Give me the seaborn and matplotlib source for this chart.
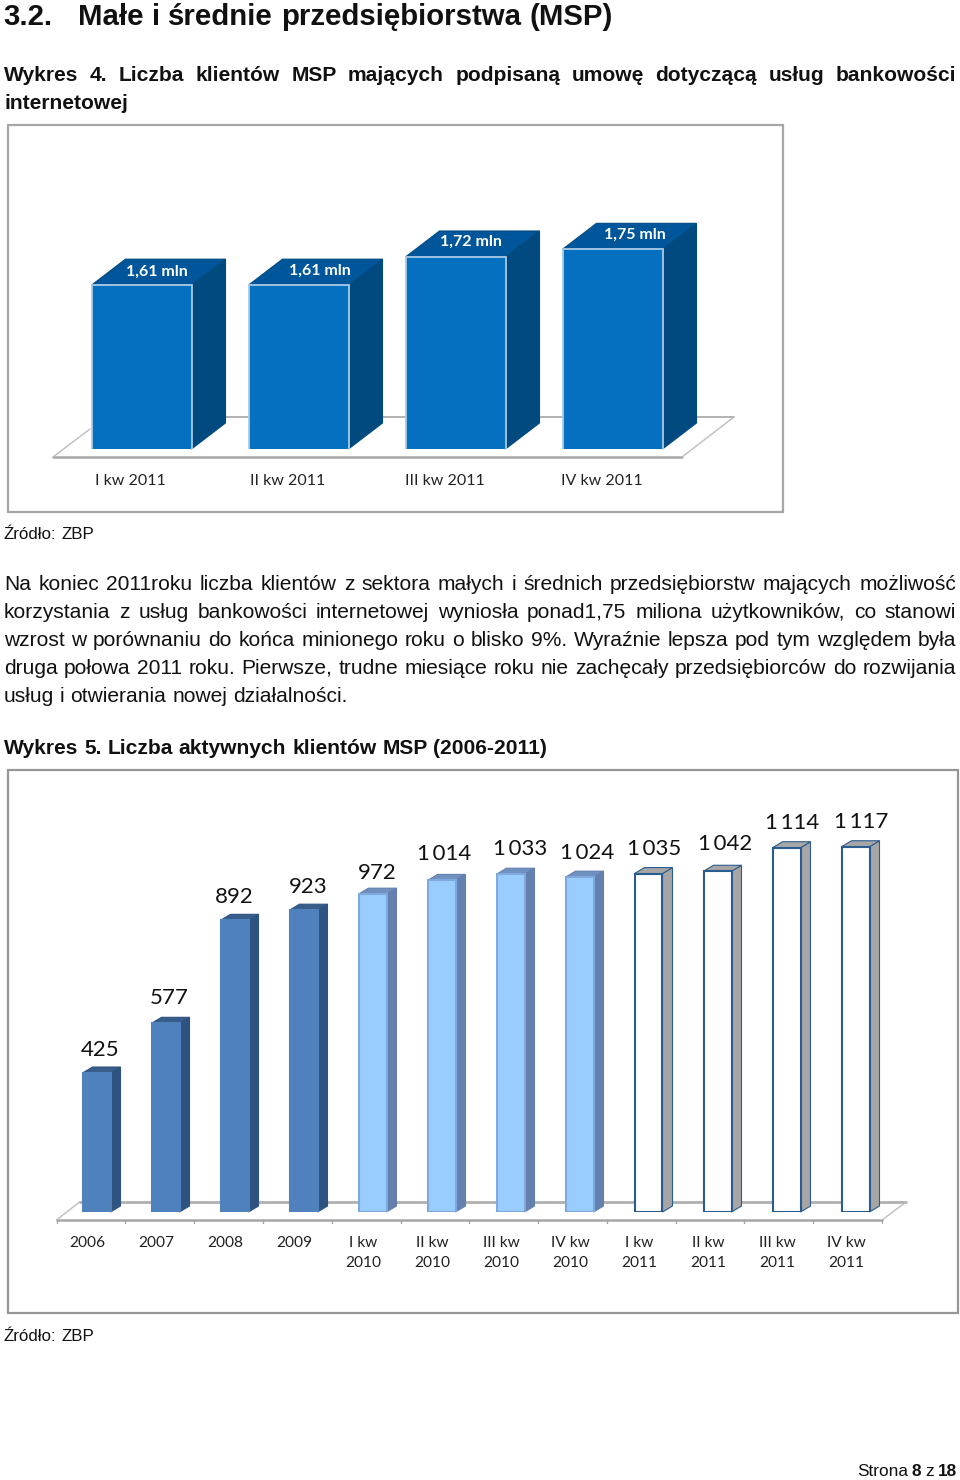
import matplotlib

matplotlib.use("Agg")
import matplotlib.pyplot as plt
import seaborn as sns
from matplotlib.patches import Polygon, Rectangle
from matplotlib.transforms import ScaledTranslation

# chart values
quarters = ["I kw 2011", "II kw 2011", "III kw 2011", "IV kw 2011"]
users_mln = [1.61, 1.61, 1.72, 1.75]

periods = [
    "2006", "2007", "2008", "2009",
    "I kw\n2010", "II kw\n2010", "III kw\n2010", "IV kw\n2010",
    "I kw\n2011", "II kw\n2011", "III kw\n2011", "IV kw\n2011",
]
active_clients = [425, 577, 892, 923, 972, 1014, 1033, 1024, 1035, 1042, 1114, 1117]

# page text
heading_no = "3.2."
heading = "Małe i średnie przedsiębiorstwa (MSP)"
title_4 = "Wykres 4. Liczba klientów MSP mających podpisaną umowę dotyczącą usług bankowości"
title_4b = "internetowej"
title_5 = "Wykres 5. Liczba aktywnych klientów MSP (2006-2011)"
source = "Źródło: ZBP"
body = [
    "Na koniec 2011roku liczba klientów z sektora małych i średnich przedsiębiorstw mających możliwość",
    "korzystania z usług bankowości internetowej wyniosła ponad1,75 miliona użytkowników, co stanowi",
    "wzrost w porównaniu do końca minionego roku o blisko 9%. Wyraźnie lepsza pod tym względem była",
    "druga połowa 2011 roku. Pierwsze, trudne miesiące roku nie zachęcały przedsiębiorców do rozwijania",
    "usług i otwierania nowej działalności.",
]

W, H = 960, 1480
BODY_FONT = "Liberation Sans"
CHART_FONT = "Lato"

sns.set_style("white")
plt.rcParams["font.family"] = [BODY_FONT, "DejaVu Sans"]

fig = plt.figure(figsize=(W / 100, H / 100), dpi=100, facecolor="white")
renderer = fig.canvas.get_renderer()


def fx(px):
    return px / W


def fy(px):
    return 1 - px / H


def page_text(words, x, y, size, weight="normal", right=None):
    """Write one line word by word, stretched out to `right` if given. y is the baseline."""
    items = [
        fig.text(fx(x), fy(y), w, fontsize=size, fontweight=weight, va="baseline", color="#111111")
        for w in words.split(" ")
    ]
    widths = [t.get_window_extent(renderer).width for t in items]
    space = size * 100 / 72 * 0.278
    if right is not None and len(items) > 1:
        space = (right - x - sum(widths)) / (len(items) - 1)
    pos = x
    for t, w in zip(items, widths):
        t.set_x(fx(pos))
        pos += w + space
    return pos


def make_axes(left, right, top, bottom):
    ax = fig.add_axes([fx(left), fy(bottom), (right - left) / W, (bottom - top) / H])
    ax.patch.set_alpha(0)
    return ax


def add_depth(ax, dx_px, dy_px, side_cols, top_cols, edge_cols):
    """Extrude the seaborn bars into fake 3D boxes, sizes given in pixels."""
    x0, x1 = ax.get_xlim()
    y0, y1 = ax.get_ylim()
    box = ax.get_position()
    dx = dx_px / (box.width * W) * (x1 - x0)
    dy = dy_px / (box.height * H) * (y1 - y0)
    for bar, side, top, edge in zip(list(ax.patches), side_cols, top_cols, edge_cols):
        left = bar.get_x()
        right = left + bar.get_width()
        val = bar.get_height()
        ax.add_patch(Polygon(
            [(right, y0), (right + dx, y0 + dy), (right + dx, val + dy), (right, val)],
            facecolor=side, edgecolor=edge, lw=0.8, zorder=2, clip_on=False,
        ))
        ax.add_patch(Polygon(
            [(left, val), (left + dx, val + dy), (right + dx, val + dy), (right, val)],
            facecolor=top, edgecolor=edge, lw=0.8, zorder=2, clip_on=False,
        ))


def shift_ticklabels(ax, px):
    for lab in ax.get_xticklabels():
        lab.set_transform(lab.get_transform() + ScaledTranslation(px / 100, 0, fig.dpi_scale_trans))


# page frames
for (l, t, r, b), col in [((8, 125, 783, 512), "#a6a6a6"), ((8, 770, 958, 1313), "#969696")]:
    fig.add_artist(Rectangle(
        (fx(l), fy(b)), (r - l) / W, (b - t) / H, transform=fig.transFigure,
        facecolor="white", edgecolor=col, lw=1.6, zorder=-1,
    ))

# page text
fig.text(fx(3), fy(25), heading_no, fontsize=21.2, fontweight="bold", va="baseline", color="#111111")
page_text(heading, 78, 25, 21.2, "bold")
page_text(title_4, 4, 81, 15.1, "bold", right=956)
page_text(title_4b, 4, 109, 15.1, "bold")
page_text(source, 4, 539, 12.2)
for i, line in enumerate(body):
    page_text(line, 4, 590 + 28 * i, 15.1, right=956 if i < 4 else None)
page_text(title_5, 4, 754, 15.1, "bold")
page_text(source, 4, 1341, 12.2)

fig.text(fx(857), fy(1476), "Strona", fontsize=12.4, va="baseline", color="#111111")
fig.text(fx(912), fy(1476), "8", fontsize=12.4, fontweight="bold", va="baseline", color="#111111")
fig.text(fx(925), fy(1476), "z", fontsize=12.4, va="baseline", color="#111111")
fig.text(fx(938), fy(1476), "18", fontsize=12.4, fontweight="bold", va="baseline", color="#111111")

# ---- chart 4 ----
BAR_1 = 157
SCALE_1 = 256
ax1 = make_axes(53, 682, 200, 449)
sns.barplot(
    x=quarters, y=users_mln, hue=quarters, palette=["#0570C0"] * 4, legend=False,
    width=100 / BAR_1, saturation=1, ax=ax1, zorder=3,
)
ax1.set_xlim(-(141.5 - 53) / BAR_1, (682 - 141.5) / BAR_1)
ax1.set_ylim(0.97, 0.97 + 249 / SCALE_1)
for bar in ax1.patches:
    bar.set_edgecolor("#a9cbe4")
    bar.set_linewidth(1.3)
add_depth(ax1, 34, 26, ["#004A80"] * 4, ["#00569B"] * 4, ["#004A80"] * 4)

# floor, offsets in px from the bar base
xlo, xhi = ax1.get_xlim()
ylo = ax1.get_ylim()[0]
ux, uy = 1 / BAR_1, 1 / SCALE_1
ax1.plot([xlo, xhi], [ylo - 8 * uy] * 2, color="#a6a6a6", lw=1.8, clip_on=False, zorder=1)
ax1.plot([xlo + 52 * ux, xhi + 52 * ux], [ylo + 32 * uy] * 2, color="#a6a6a6", lw=1.2, clip_on=False, zorder=1)
ax1.plot([xlo, xlo + 37 * ux], [ylo - 8 * uy, ylo + 20 * uy], color="#bdbdbd", lw=1, clip_on=False, zorder=1)
ax1.plot([xhi, xhi + 52 * ux], [ylo - 8 * uy, ylo + 32 * uy], color="#bdbdbd", lw=1, clip_on=False, zorder=1)

label_nudge_1 = [(15, 13), (21.5, 14.5), (15, 15.5), (22, 14.5)]
for bar, val, (nx, ny) in zip(list(ax1.patches), users_mln, label_nudge_1):
    ax1.annotate(
        f"{val:.2f}".replace(".", ",") + " mln",
        (bar.get_x() + bar.get_width() / 2, val), xytext=(nx * 0.72, ny * 0.72),
        textcoords="offset points", ha="center", va="center", color="white",
        fontsize=11.5, fontweight="bold", family=CHART_FONT, zorder=5, annotation_clip=False,
    )
ax1.set_xticks(range(len(quarters)))
ax1.set_xticklabels(quarters, fontsize=11.5, family=CHART_FONT, color="#222222")
ax1.tick_params(axis="x", length=0, pad=18)
shift_ticklabels(ax1, -11)
ax1.set_yticks([])
ax1.set_ylabel("")
sns.despine(ax=ax1, left=True, bottom=True)

# ---- chart 5 ----
BAR_2 = 69
SCALE_2 = 0.327
front = ["#4F81BD"] * 4 + ["#99CCFF"] * 4 + ["#FFFFFF"] * 4
sides = ["#2F5380"] * 4 + ["#6480AE"] * 4 + ["#A6A6A6"] * 4
tops = ["#385D8A"] * 4 + ["#7090C0"] * 4 + ["#A6A6A6"] * 4
edges = ["#4F81BD"] * 4 + ["#7FA8DC"] * 4 + ["#2B5C8F"] * 4
depth_edges = ["#2F5380"] * 4 + ["#6480AE"] * 4 + ["#2B5C8F"] * 4
ax2 = make_axes(62, 890, 800, 1212)
sns.barplot(
    x=periods, y=active_clients, hue=periods, palette=front, legend=False,
    width=28 / BAR_2, saturation=1, ax=ax2, zorder=3,
)
ax2.set_xlim(-0.5, 11.5)
ax2.set_ylim(0, 412 / SCALE_2)
for bar, edge in zip(ax2.patches, edges):
    bar.set_edgecolor(edge)
    bar.set_linewidth(1.5)
add_depth(ax2, 10, 6, sides, tops, depth_edges)

# floor and boundary ticks, offsets in px from the bar base
xlo, xhi = ax2.get_xlim()
ux, uy = 1 / BAR_2, 1 / SCALE_2
fx0 = xlo - 5.5 * ux
fx1 = fx0 + 12 * 68.8 * ux
ax2.plot([fx0, fx1], [-8 * uy] * 2, color="#a6a6a6", lw=1.8, clip_on=False, zorder=1)
ax2.plot([fx0 + 23 * ux, fx1 + 24 * ux], [10 * uy] * 2, color="#b0b0b0", lw=2, clip_on=False, zorder=1)
ax2.plot([fx0, fx0 + 23 * ux], [-8 * uy, 10 * uy], color="#bdbdbd", lw=1, clip_on=False, zorder=1)
ax2.plot([fx1, fx1 + 24 * ux], [-8 * uy, 10 * uy], color="#bdbdbd", lw=1, clip_on=False, zorder=1)
for i in range(len(periods) + 1):
    tick_x = fx0 + i * 68.8 * ux
    ax2.plot([tick_x, tick_x], [-8 * uy, -11 * uy], color="#a6a6a6", lw=1, clip_on=False, zorder=1)

label_nudge_2 = [(4, 23), (4, 25), (0, 23), (4.5, 23), (4.5, 21), (2.5, 26),
                 (9.5, 25), (7.5, 24), (5.5, 25), (7.5, 27), (5.5, 25), (5.5, 25)]
for bar, val, (nx, ny) in zip(list(ax2.patches), active_clients, label_nudge_2):
    ax2.annotate(
        f"{val:,}".replace(",", "\u2009"),
        (bar.get_x() + bar.get_width() / 2, val), xytext=(nx * 0.72, ny * 0.72),
        textcoords="offset points", ha="center", va="center", color="#111111",
        fontsize=16, family=[CHART_FONT, "DejaVu Sans"], zorder=5, annotation_clip=False,
    )
ax2.set_xticks(range(len(periods)))
ax2.set_xticklabels(periods, fontsize=11.2, family=CHART_FONT, color="#222222", linespacing=1.55)
ax2.tick_params(axis="x", length=0, pad=17)
shift_ticklabels(ax2, -9)
ax2.set_yticks([])
ax2.set_ylabel("")
sns.despine(ax=ax2, left=True, bottom=True)

fig.savefig("out.png", dpi=100)
